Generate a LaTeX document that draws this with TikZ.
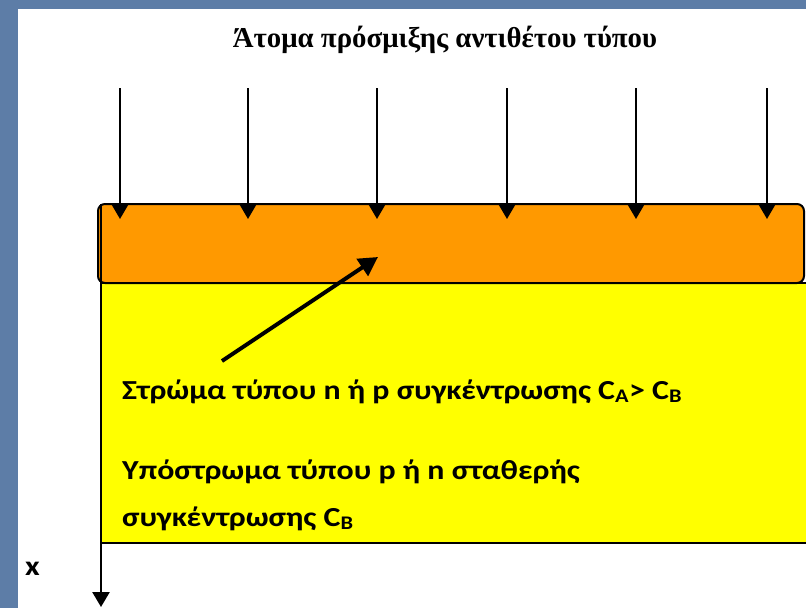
\documentclass[tikz,border=0pt]{standalone}
\usepackage{fontspec}
\setmainfont{Liberation Serif}
\newfontfamily\calib[FakeStretch=1.16]{Carlito}
\usetikzlibrary{arrows.meta}
\definecolor{bgblue}{HTML}{5D7DA7}
\definecolor{layerorange}{HTML}{FF9900}
\definecolor{layeryellow}{HTML}{FFFF00}
\tikzset{
  dopearrow/.style={line width=2pt,-{Triangle[width=17pt,length=15pt]}},
  axisarrow/.style={line width=2.5pt,-{Triangle[width=17pt,length=15pt]}},
  pointarrow/.style={line width=4pt,-{Triangle[width=20pt,length=19pt]}},
  bodytext/.style={font=\calib\fontsize{27.5}{32}\selectfont\bfseries,anchor=base west,inner sep=0pt},
  titletext/.style={font=\fontsize{28.8}{32}\selectfont\bfseries,anchor=base,inner sep=0pt}
}
\begin{document}
\begin{tikzpicture}[x=1pt,y=-1pt]
\useasboundingbox (0,0) rectangle (806,608);
\clip (0,0) rectangle (806,608);
\fill[bgblue] (0,0) rectangle (806,608);
\fill[white] (18,9) rectangle (806,608);
% layers
\fill[layeryellow,draw=black,line width=2pt] (101,283) rectangle (830,543);
\filldraw[fill=layerorange,draw=black,line width=2pt,rounded corners=7pt] (98,204) rectangle (804,283);
% title
\node[titletext] (title) at (445,47) {Άτομα πρόσμιξης αντιθέτου τύπου};
% dopant arrows
\foreach \i/\xx in {1/120,2/248,3/377,4/507,5/636,6/767}{
  \coordinate (s\i) at (\xx,88);
  \coordinate (e\i) at (\xx,219);
  \draw[dopearrow] (s\i) -- (e\i);
}
% depth axis
\coordinate (axtop) at (101,204);
\coordinate (axbot) at (101,607);
\draw[axisarrow] (axtop) -- (axbot);
\node[bodytext] (xlab) at (25,575) {x};
% pointer arrow
\coordinate (pstart) at (222,361);
\coordinate (pend) at (378,257);
\draw[pointarrow] (pstart) -- (pend);
% texts
\node[bodytext] (layer) at (122,399) {Στρώμα τύπου n ή p συγκέντρωσης C\textsubscript{A}> C\textsubscript{B}};
\node[bodytext] (sub1) at (122,479) {Υπόστρωμα τύπου p ή n σταθερής};
\node[bodytext] (sub2) at (122,526) {συγκέντρωσης C\textsubscript{B}};
\end{tikzpicture}
\end{document}
